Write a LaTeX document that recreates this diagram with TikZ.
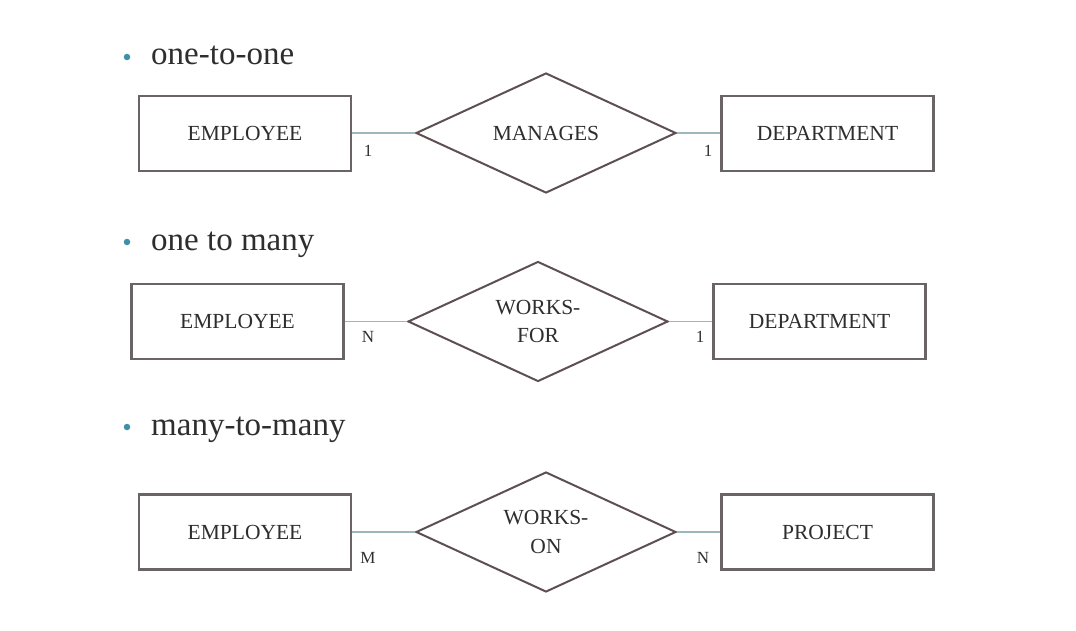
\documentclass[tikz,border=0pt]{standalone}
\usepackage{fontspec}
\setmainfont{Liberation Serif}
\usetikzlibrary{shapes.geometric}
\definecolor{txt}{HTML}{2E2E2E}
\definecolor{boxc}{HTML}{6A6466}
\definecolor{diac}{HTML}{5E5052}
\definecolor{linkc}{HTML}{9DB8BC}
\definecolor{bul}{HTML}{3F8FA6}
\tikzset{
  entity/.style={draw=boxc, line width=2.4pt, minimum width=212pt, minimum height=75pt,
    inner sep=0pt, text=txt, font=\fontsize{21.5}{26}\selectfont},
  relship/.style={draw=diac, line width=2pt, diamond, aspect=2.17, minimum width=260pt,
    minimum height=120pt, inner sep=0pt, text=txt, align=center,
    font=\fontsize{21.5}{28.5}\selectfont},
  link/.style={draw=linkc, line width=1.5pt},
  card/.style={text=txt, inner sep=0pt, font=\fontsize{17}{20}\selectfont},
  heading/.style={anchor=base west, text=txt, inner sep=0pt, font=\fontsize{33}{38}\selectfont},
  bulletdot/.style={circle, fill=bul, inner sep=0pt, minimum size=6.5pt}
}
\begin{document}
\begin{tikzpicture}[x=1pt, y=-1pt]
\useasboundingbox[fill=white] (0,0) rectangle (1076,631);

% ---- one-to-one
\node[bulletdot] (b1) at (127,57) {};
\node[heading] (h1) at (151,65) {one-to-one};
\node[entity] (e1) at (245,133.5) {EMPLOYEE};
\node[relship] (r1) at (546,133) {MANAGES};
\node[entity] (d1) at (827.5,133.5) {DEPARTMENT};
\draw[link] (e1.east |- r1.west) -- (r1.west);
\draw[link] (r1.east) -- (d1.west |- r1.east);
\node[card] (c1a) at (368,151) {1};
\node[card] (c1b) at (708,151) {1};

% ---- one to many
\node[bulletdot] (b2) at (127,242) {};
\node[heading] (h2) at (151,250) {one to many};
\node[entity] (e2) at (237.5,321.5) {EMPLOYEE};
\node[relship] (r2) at (538,321.5) {WORKS-\\FOR};
\node[entity] (d2) at (819.5,321.5) {DEPARTMENT};
\draw[link] (e2.east |- r2.west) -- (r2.west);
\draw[link] (r2.east) -- (d2.west |- r2.east);
\node[card] (c2a) at (368,337) {N};
\node[card] (c2b) at (700,337) {1};

% ---- many-to-many
\node[bulletdot] (b3) at (127,427) {};
\node[heading] (h3) at (151,435) {many-to-many};
\node[entity] (e3) at (245,532) {EMPLOYEE};
\node[relship] (r3) at (546,532) {WORKS-\\ON};
\node[entity] (p3) at (827.5,532) {PROJECT};
\draw[link] (e3.east |- r3.west) -- (r3.west);
\draw[link] (r3.east) -- (p3.west |- r3.east);
\node[card] (c3a) at (368,558) {M};
\node[card] (c3b) at (703,558) {N};
\end{tikzpicture}
\end{document}
